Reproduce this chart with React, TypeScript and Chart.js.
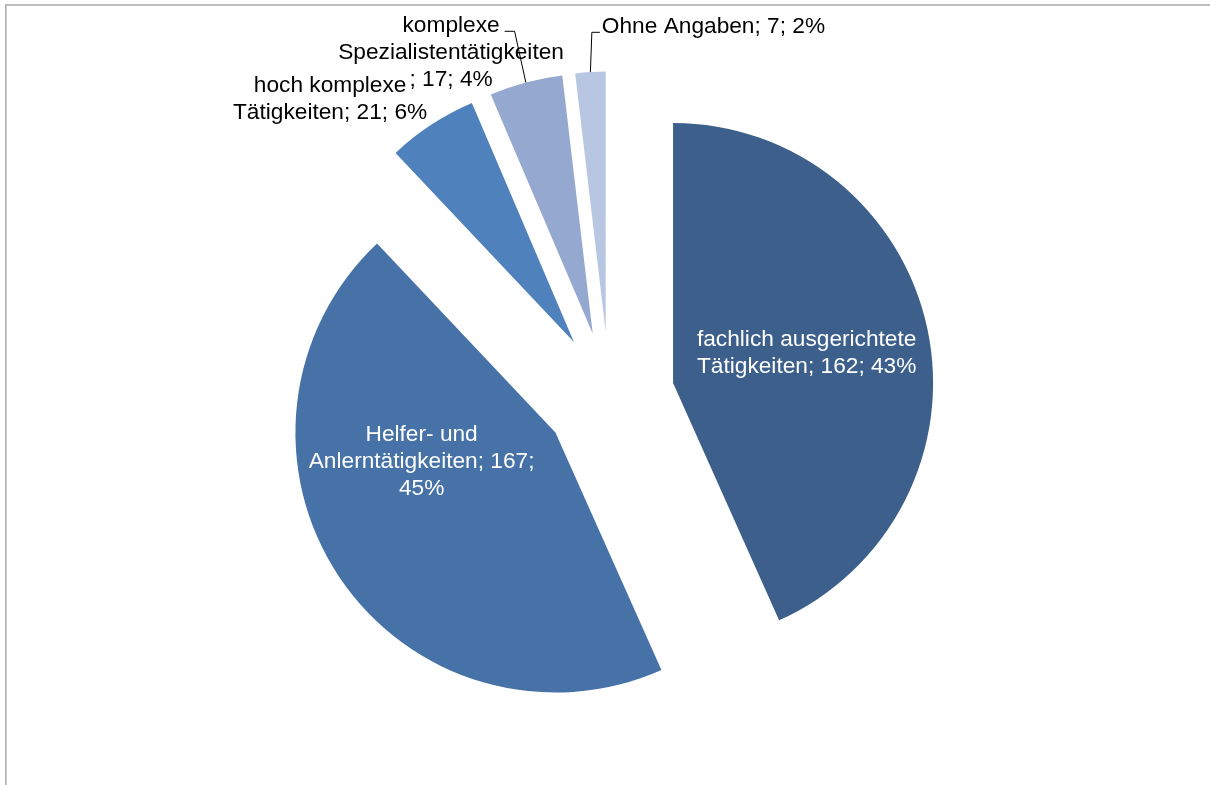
import React, { useEffect, useRef } from "react";
import { Chart, registerables } from "chart.js";

Chart.register(...registerables);

// ---- data ----
const categories = [
  "fachlich ausgerichtete Tätigkeiten",
  "Helfer- und Anlerntätigkeiten",
  "hoch komplexe Tätigkeiten",
  "komplexe Spezialistentätigkeiten",
  "Ohne Angaben",
];
const values = [162, 167, 21, 17, 7];
const percents = [43, 45, 6, 4, 2];

// ---- styles ----
const colors = ["#3C5F8C", "#4672A8", "#4F81BD", "#95A9D0", "#B9C6E1"];
const labelColors = ["#FFFFFF", "#FFFFFF", "#000000", "#000000", "#000000"];
const W = 1210;
const H = 785;
const RADIUS = 260;
const EXPLODE = 65;
const FONT = '22.7px "Liberation Sans", Arial, sans-serif';
const LINE_H = 27;
const WRAP_W = 229;
// label anchor (centre x, first baseline) relative to the exploded slice apex
const labelOffsets: [number, number][] = [
  [133.6, -37],
  [-133.8, 8.5],
  [-243.8, -250.6],
  [-141.7, -301.4],
  [107.8, -298.3],
];
const hasLeader = [false, false, false, true, true];

type Token = { text: string; space: boolean };

function buildTokens(i: number): Token[] {
  const words = categories[i].split(" ");
  const toks: Token[] = words.map((w, k) => ({ text: w, space: k > 0 }));
  toks.push({ text: ";", space: false });
  toks.push({ text: `${values[i]};`, space: true });
  toks.push({ text: `${percents[i]}%`, space: true });
  return toks;
}

function wrap(ctx: CanvasRenderingContext2D, toks: Token[], maxW: number): string[] {
  const lines: string[] = [];
  let line = "";
  for (const t of toks) {
    const cand = line + (line && t.space ? " " : "") + t.text;
    if (line && ctx.measureText(cand).width > maxW) {
      lines.push(line);
      line = t.text;
    } else {
      line = cand;
    }
  }
  if (line) lines.push(line);
  return lines;
}

const framePlugin = {
  id: "frame",
  beforeDraw(chart: any) {
    const ctx = chart.ctx as CanvasRenderingContext2D;
    ctx.save();
    ctx.fillStyle = "#FFFFFF";
    ctx.fillRect(0, 0, chart.width, chart.height);
    ctx.strokeStyle = "#B4B4B4";
    ctx.lineWidth = 1.75;
    ctx.strokeRect(5.85, 5, chart.width + 100, chart.height + 100);
    ctx.restore();
  },
};

const explodePlugin = {
  id: "explode",
  afterDatasetUpdate(chart: any, args: any) {
    const meta = chart.getDatasetMeta(args.index);
    meta.data.forEach((arc: any) => {
      const mid = (arc.startAngle + arc.endAngle) / 2;
      arc.x += Math.cos(mid) * EXPLODE;
      arc.y += Math.sin(mid) * EXPLODE;
    });
  },
};

const labelPlugin = {
  id: "sliceLabels",
  afterDraw(chart: any) {
    const ctx = chart.ctx as CanvasRenderingContext2D;
    const meta = chart.getDatasetMeta(0);
    ctx.save();
    ctx.font = FONT;
    ctx.textAlign = "center";
    ctx.textBaseline = "alphabetic";
    meta.data.forEach((arc: any, i: number) => {
      const lines = wrap(ctx, buildTokens(i), WRAP_W);
      const ax = arc.x + labelOffsets[i][0];
      const ay = arc.y + labelOffsets[i][1];
      ctx.fillStyle = labelColors[i];
      lines.forEach((ln, k) => ctx.fillText(ln, ax, ay + k * LINE_H));
      if (hasLeader[i]) {
        const mid = (arc.startAngle + arc.endAngle) / 2;
        const sx = arc.x + Math.cos(mid) * arc.outerRadius;
        const sy = arc.y + Math.sin(mid) * arc.outerRadius;
        const w0 = ctx.measureText(lines[0]).width;
        const ly = ay - 1;
        let ex: number;
        let bx: number;
        if (sx < ax) {
          const left = ax - w0 / 2;
          ex = left - 2;
          bx = left - 10;
        } else {
          const right = ax + w0 / 2;
          ex = right + 5;
          bx = right + 15;
        }
        ctx.beginPath();
        ctx.moveTo(sx, sy);
        ctx.lineTo(bx, ly);
        ctx.lineTo(ex, ly);
        ctx.strokeStyle = "#000000";
        ctx.lineWidth = 1;
        ctx.stroke();
      }
    });
    ctx.restore();
  },
};

export default function App() {
  const ref = useRef<HTMLCanvasElement>(null);
  useEffect(() => {
    document.body.style.margin = "0";
    document.body.style.overflow = "hidden";
    const chart = new Chart(ref.current as HTMLCanvasElement, {
      type: "pie",
      data: {
        labels: categories,
        datasets: [
          {
            data: values,
            backgroundColor: colors,
            borderWidth: 0,
            radius: RADIUS,
          } as any,
        ],
      },
      options: {
        responsive: false,
        animation: false,
        events: [],
        layout: { padding: { left: 9, top: 8, right: 0, bottom: 0 } },
        plugins: {
          legend: { display: false },
          tooltip: { enabled: false },
        },
      },
      plugins: [framePlugin, explodePlugin, labelPlugin],
    });
    return () => chart.destroy();
  }, []);
  return (
    <div style={{ width: W, height: H }}>
      <canvas ref={ref} width={W} height={H} style={{ display: "block" }} />
    </div>
  );
}
